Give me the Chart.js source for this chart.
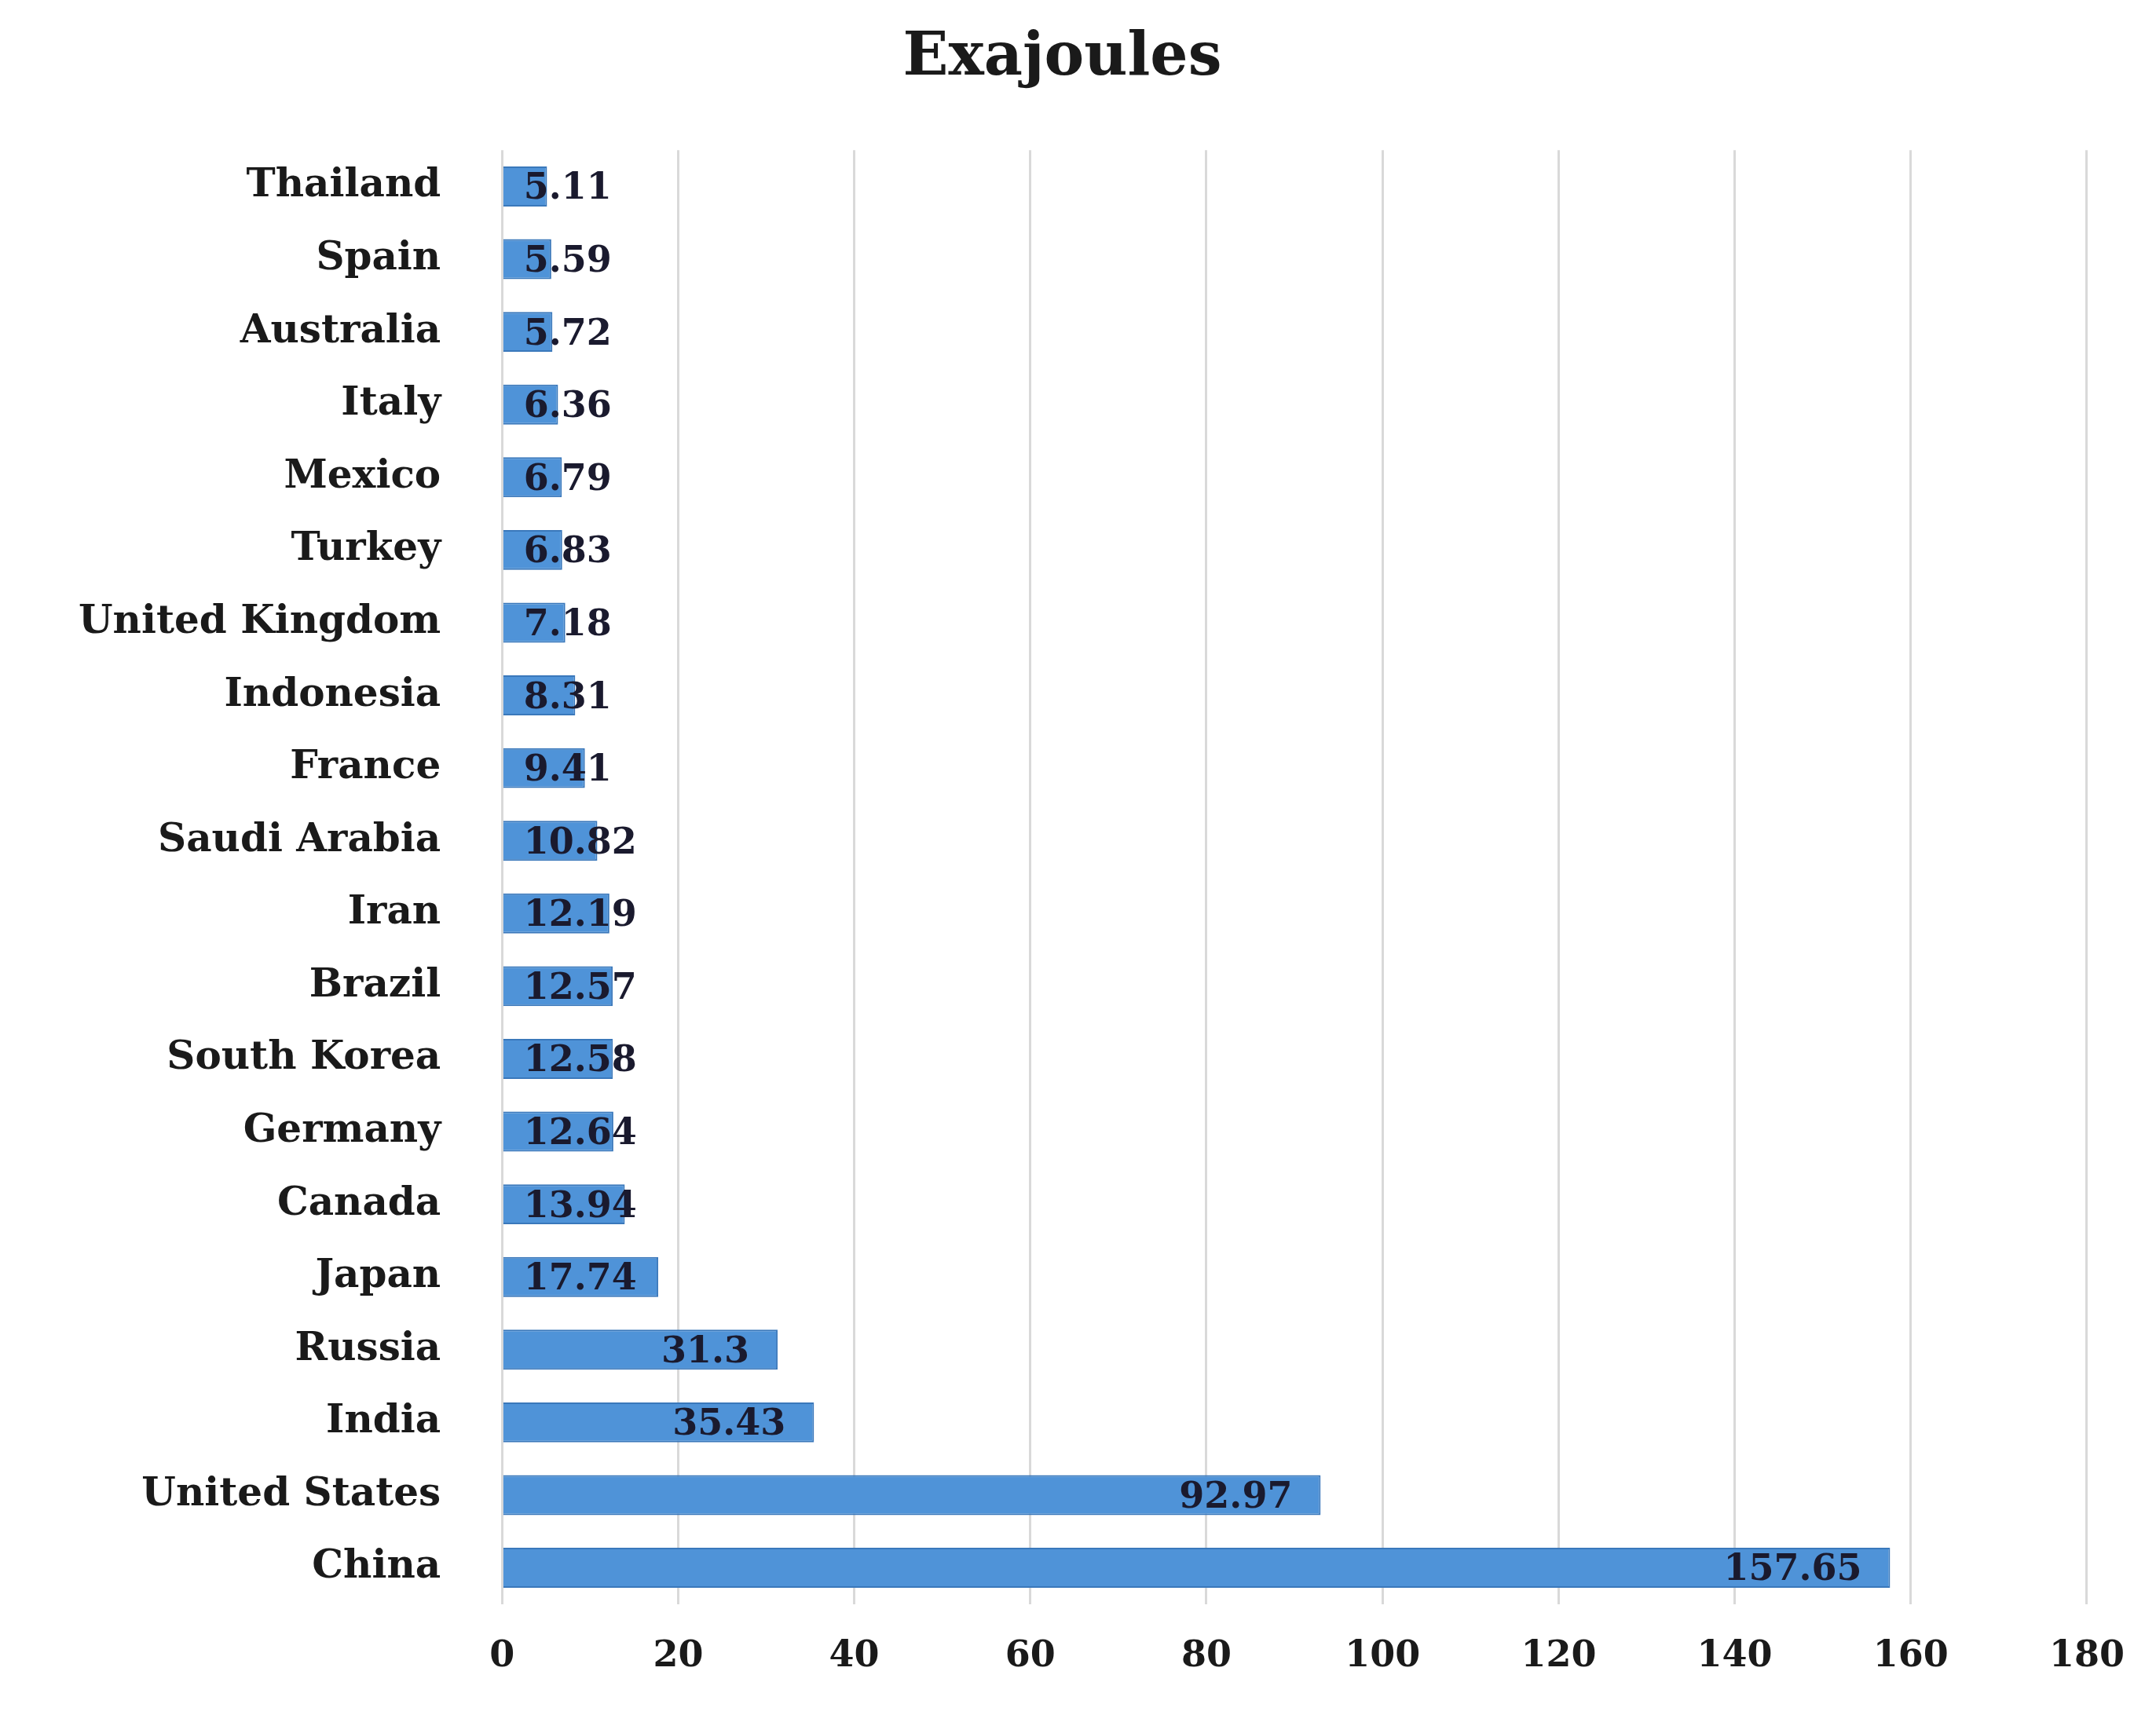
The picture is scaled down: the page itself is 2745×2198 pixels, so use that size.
<!DOCTYPE html>
<html>
<head>
<meta charset="utf-8">
<script src="https://cdn.jsdelivr.net/npm/chart.js@4/dist/chart.umd.min.js"></script>
<style>
  html, body { margin: 0; padding: 0; background: #fff; }
</style>
</head>
<body>
<canvas id="energyChart" width="2745" height="2198"></canvas>
<script>
const countries = ['Thailand', 'Spain', 'Australia', 'Italy', 'Mexico', 'Turkey', 'United Kingdom',
  'Indonesia', 'France', 'Saudi Arabia', 'Iran', 'Brazil', 'South Korea', 'Germany', 'Canada',
  'Japan', 'Russia', 'India', 'United States', 'China'];
const exajoules = [5.11, 5.59, 5.72, 6.36, 6.79, 6.83, 7.18, 8.31, 9.41, 10.82, 12.19, 12.57,
  12.58, 12.64, 13.94, 17.74, 31.3, 35.43, 92.97, 157.65];
const xTicks = [0, 20, 40, 60, 80, 100, 120, 140, 160, 180];

const FONT = '"DejaVu Serif", "Liberation Serif", serif';

// etiquetas de valor al final de cada barra (estilo Excel)
const valueLabels = {
  id: 'valueLabels',
  afterDatasetsDraw(chart) {
    const ctx = chart.ctx;
    const meta = chart.getDatasetMeta(0);
    ctx.save();
    ctx.font = 'bold 46px ' + FONT;
    ctx.fillStyle = '#1a1a2e';
    ctx.textBaseline = 'middle';
    meta.data.forEach((bar, i) => {
      const txt = String(exajoules[i]);
      const w = ctx.measureText(txt).width;
      const left = Math.max(bar.base + 26, bar.x - 36 - w);
      ctx.fillText(txt, left, bar.y + 4);
    });
    ctx.restore();
  }
};

new Chart(document.getElementById('energyChart').getContext('2d'), {
  type: 'bar',
  data: {
    labels: countries,
    datasets: [{
      data: exajoules,
      backgroundColor: '#4f93d8',
      borderColor: '#3a78bb',
      borderWidth: 2,
      barPercentage: 0.55,
      categoryPercentage: 1
    }]
  },
  options: {
    indexAxis: 'y',
    responsive: false,
    animation: false,
    layout: { padding: { left: 30, right: 70, top: 10, bottom: 20 } },
    plugins: {
      legend: { display: false },
      tooltip: { enabled: false },
      title: {
        display: true,
        text: 'Exajoules',
        color: '#1a1a1a',
        font: { family: FONT, size: 76, weight: 'bold' },
        padding: { top: 20, bottom: 70 }
      }
    },
    scales: {
      x: {
        min: 0,
        max: 180,
        afterBuildTicks: axis => { axis.ticks = xTicks.map(v => ({ value: v })); },
        grid: { color: '#d9d9d9', lineWidth: 3, drawTicks: false },
        border: { display: false },
        ticks: { color: '#1a1a1a', padding: 40, font: { family: FONT, size: 46, weight: 'bold' } }
      },
      y: {
        grid: { display: false },
        border: { display: false },
        ticks: { color: '#1a1a1a', padding: 70, font: { family: FONT, size: 50, weight: 'bold' } }
      }
    }
  },
  plugins: [valueLabels]
});
</script>
</body>
</html>
